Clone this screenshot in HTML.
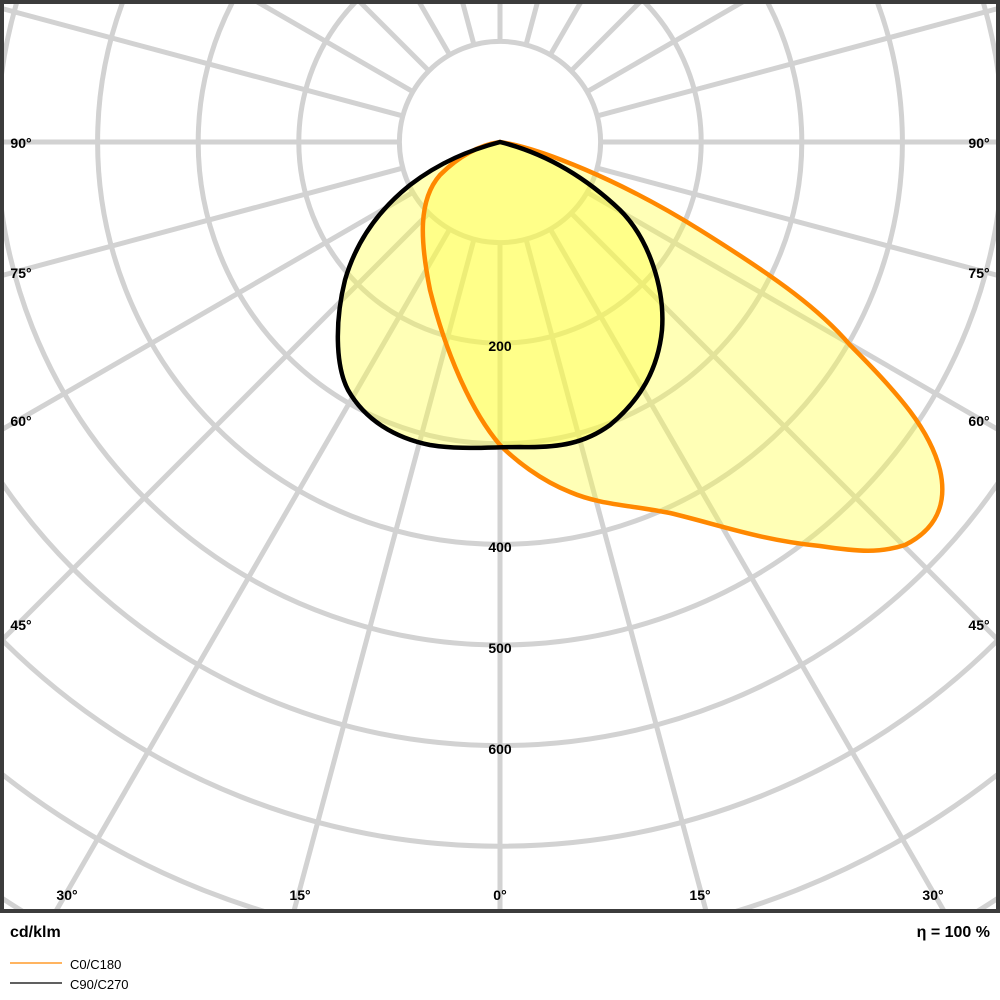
<!DOCTYPE html>
<html><head><style>
html,body{margin:0;padding:0;background:#fff;width:1000px;height:1000px;overflow:hidden;font-family:"Liberation Sans",sans-serif}
svg{display:block}
</style></head><body>
<svg width="1000" height="1000" viewBox="0 0 1000 1000" xmlns="http://www.w3.org/2000/svg" font-family="Liberation Sans, sans-serif">
<defs><clipPath id="c"><rect x="4" y="4" width="992" height="906"/></clipPath></defs>
<g clip-path="url(#c)">
<g stroke="#d2d2d2" stroke-width="5" fill="none">
<circle cx="500" cy="142" r="100.6"/><circle cx="500" cy="142" r="201.2"/><circle cx="500" cy="142" r="301.8"/><circle cx="500" cy="142" r="402.4"/><circle cx="500" cy="142" r="503"/><circle cx="500" cy="142" r="603.6"/><circle cx="500" cy="142" r="704.2"/><circle cx="500" cy="142" r="804.8"/><circle cx="500" cy="142" r="905.4"/><circle cx="500" cy="142" r="1006"/>
<g id="rl">
<line x1="500" y1="242.6" x2="500" y2="1500"/>
</g>
<use href="#rl" transform="rotate(15 500 142)"/><use href="#rl" transform="rotate(30 500 142)"/><use href="#rl" transform="rotate(45 500 142)"/><use href="#rl" transform="rotate(60 500 142)"/><use href="#rl" transform="rotate(75 500 142)"/><use href="#rl" transform="rotate(90 500 142)"/><use href="#rl" transform="rotate(105 500 142)"/><use href="#rl" transform="rotate(120 500 142)"/><use href="#rl" transform="rotate(135 500 142)"/><use href="#rl" transform="rotate(150 500 142)"/><use href="#rl" transform="rotate(165 500 142)"/><use href="#rl" transform="rotate(180 500 142)"/><use href="#rl" transform="rotate(195 500 142)"/><use href="#rl" transform="rotate(210 500 142)"/><use href="#rl" transform="rotate(225 500 142)"/><use href="#rl" transform="rotate(240 500 142)"/><use href="#rl" transform="rotate(255 500 142)"/><use href="#rl" transform="rotate(270 500 142)"/><use href="#rl" transform="rotate(285 500 142)"/><use href="#rl" transform="rotate(300 500 142)"/><use href="#rl" transform="rotate(315 500 142)"/><use href="#rl" transform="rotate(330 500 142)"/><use href="#rl" transform="rotate(345 500 142)"/>
</g>
<path d="M500,142 C540,148 620,180 700,230 C780,280 820,310 850,345 C900,395 930,430 940,470 C948,505 935,530 905,545 C880,553 860,552 820,546 C760,540 720,525 670,513 C630,505 600,505 570,492 C540,480 515,460 500,445 C470,410 445,350 430,290 C420,240 418,200 440,175 C460,155 480,145 500,142 Z" fill="#ffff40" fill-opacity="0.38"/>
<path d="M500,142 C540,152 580,172 620,210 C650,240 665,290 662,330 C658,370 640,400 610,425 C585,443 560,448 520,447 C490,447 460,450 430,445 C395,438 365,420 348,390 C335,365 335,320 345,280 C358,235 385,205 410,185 C440,162 470,150 500,142 Z" fill="#ffff40" fill-opacity="0.38"/>
<path d="M500,142 C540,148 620,180 700,230 C780,280 820,310 850,345 C900,395 930,430 940,470 C948,505 935,530 905,545 C880,553 860,552 820,546 C760,540 720,525 670,513 C630,505 600,505 570,492 C540,480 515,460 500,445 C470,410 445,350 430,290 C420,240 418,200 440,175 C460,155 480,145 500,142 Z" fill="none" stroke="#ff8800" stroke-width="4.5"/>
<path d="M500,142 C540,152 580,172 620,210 C650,240 665,290 662,330 C658,370 640,400 610,425 C585,443 560,448 520,447 C490,447 460,450 430,445 C395,438 365,420 348,390 C335,365 335,320 345,280 C358,235 385,205 410,185 C440,162 470,150 500,142 Z" fill="none" stroke="#000" stroke-width="4.5"/>
</g>
<rect x="2" y="2" width="996" height="909" fill="none" stroke="#3c3c3c" stroke-width="4"/>
<g font-size="14" fill="#000" text-anchor="middle" font-weight="bold">
<text x="500" y="351">200</text><text x="500" y="552">400</text><text x="500" y="653">500</text><text x="500" y="754">600</text>
<text x="21" y="148">90°</text><text x="979" y="148">90°</text>
<text x="21" y="278">75°</text><text x="979" y="278">75°</text>
<text x="21" y="426">60°</text><text x="979" y="426">60°</text>
<text x="21" y="630">45°</text><text x="979" y="630">45°</text>
<text x="67" y="900">30°</text><text x="300" y="900">15°</text><text x="500" y="900">0°</text><text x="700" y="900">15°</text><text x="933" y="900">30°</text>
</g>
<text x="10" y="937" font-size="16" font-weight="bold">cd/klm</text>
<text x="990" y="937" font-size="16" text-anchor="end" font-weight="bold">η = 100 %</text>
<line x1="10" y1="963" x2="62" y2="963" stroke="#ff8800" stroke-width="1.2"/>
<line x1="10" y1="983" x2="62" y2="983" stroke="#000" stroke-width="1.2"/>
<text x="70" y="969" font-size="13">C0/C180</text>
<text x="70" y="989" font-size="13">C90/C270</text>
</svg>
</body></html>
